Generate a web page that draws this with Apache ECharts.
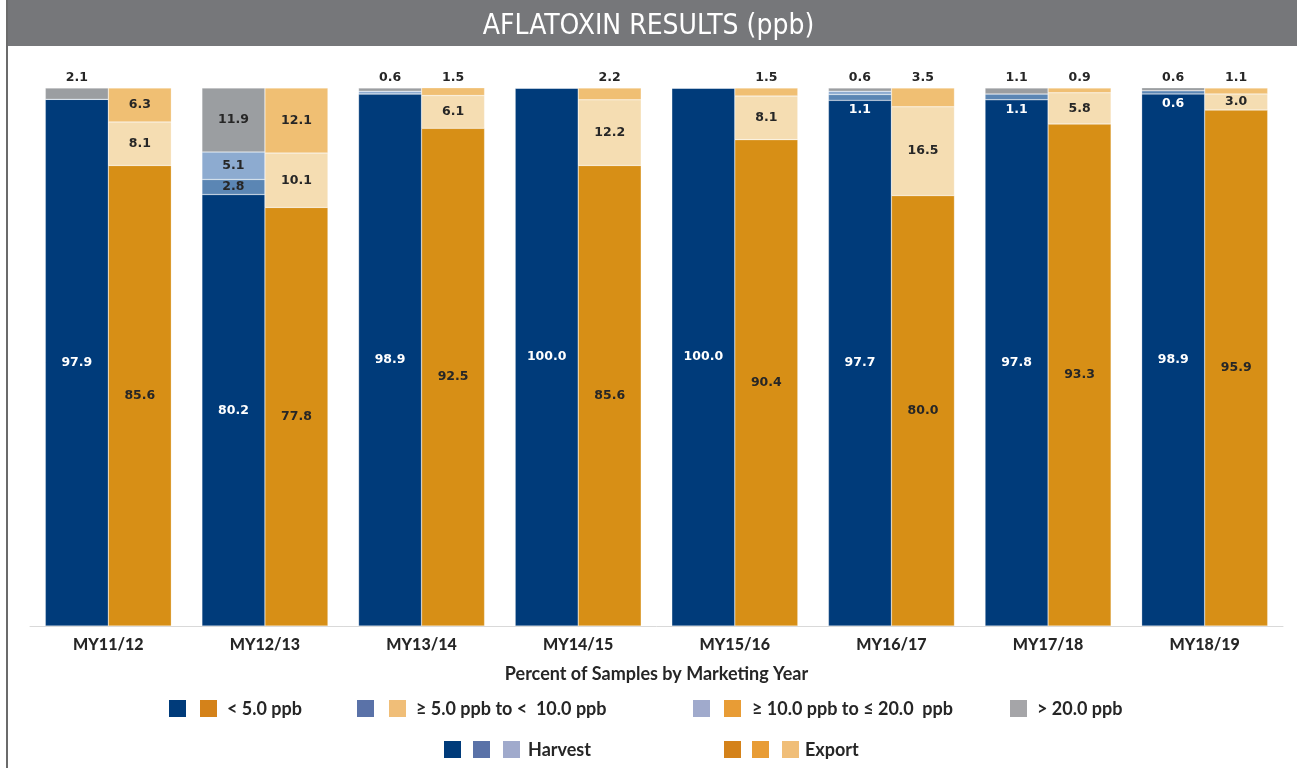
<!DOCTYPE html>
<html>
<head>
<meta charset="utf-8">
<script src="https://cdn.jsdelivr.net/npm/echarts@6/dist/echarts.min.js"></script>
<style>
  html, body { margin: 0; padding: 0; background: #fff; }
  #chart { width: 1297px; height: 768px; }
</style>
</head>
<body>
<div id="chart"></div>
<script>
// categories and values (percent of samples)
var categories = ['MY11/12', 'MY12/13', 'MY13/14', 'MY14/15', 'MY15/16', 'MY16/17', 'MY17/18', 'MY18/19'];

var harvestLt5   = [97.9, 80.2, 98.9, 100.0, 100.0, 97.7, 97.8, 98.9];
var harvest5to10 = [0, 2.8, 0, 0, 0, 1.1, 1.1, 0.6];
var harvest10to20 = [0, 5.1, 0.5, 0, 0, 0.6, 0, 0];
var harvestGt20  = [2.1, 11.9, 0.6, 0, 0, 0.6, 1.1, 0.6];

var exportLt5 = [85.6, 77.8, 92.5, 85.6, 90.4, 80.0, 93.3, 95.9];
var exportMid = [8.1, 10.1, 6.1, 12.2, 8.1, 16.5, 5.8, 3.0];
var exportTop = [6.3, 12.1, 1.5, 2.2, 1.5, 3.5, 0.9, 1.1];

var dark = '#262626';
var labelFont = 'DejaVu Sans';

// label placement rule per segment
function items(values, rule) {
  return values.map(function (v) {
    return { value: v, label: rule(v) };
  });
}
function inside(color) {
  return function (v) { return v > 0 ? { show: true, position: 'inside', color: color } : { show: false }; };
}
function topOrInside(limit) {
  return function (v) {
    if (v <= 0) return { show: false };
    if (v >= limit) return { show: true, position: 'inside', color: dark };
    return { show: true, position: 'top', color: dark, distance: 4 };
  };
}

var baseLabel = {
  fontFamily: labelFont,
  fontWeight: 'bold',
  fontSize: 12.5,
  formatter: function (p) { return p.value.toFixed(1); }
};

function bar(name, stack, color, data) {
  return {
    name: name,
    type: 'bar',
    stack: stack,
    barWidth: 63,
    barGap: '0%',
    itemStyle: { color: color, borderColor: 'rgba(255,255,255,0.5)', borderWidth: 0.5 },
    label: baseLabel,
    data: data
  };
}

var chart = echarts.init(document.getElementById('chart'));

var legendText = { fontFamily: 'Lato', fontWeight: 'bold', fontSize: 18, fill: dark };
function sq(x, y, c) {
  return { type: 'rect', shape: { x: x, y: y, width: 17, height: 17 }, style: { fill: c } };
}
function txt(x, y, s) {
  return { type: 'text', x: x, y: y, style: Object.assign({ text: s, verticalAlign: 'middle' }, legendText) };
}

var option = {
  animation: false,
  backgroundColor: '#fff',
  title: {
    text: 'AFLATOXIN RESULTS (ppb)',
    left: 'center',
    top: 8,
    textStyle: { color: '#fff', fontFamily: "'DejaVu Sans Condensed', 'Liberation Sans', sans-serif", fontWeight: 'normal', fontSize: 28 }
  },
  grid: { left: 30, right: 14, top: 88, bottom: 142 },
  xAxis: {
    type: 'category',
    data: categories,
    axisLine: { lineStyle: { color: '#d9d9d9', width: 1 } },
    axisTick: { show: false },
    axisLabel: { color: dark, fontFamily: 'Lato', fontWeight: 900, fontSize: 16, margin: 11 },
    name: 'Percent of Samples by Marketing Year',
    nameLocation: 'middle',
    nameGap: 39,
    nameTextStyle: { color: dark, fontFamily: 'Lato', fontWeight: 'bold', fontSize: 18 }
  },
  yAxis: { type: 'value', min: 0, max: 100, show: false },
  series: [
    bar('Harvest < 5.0', 'h', '#003b7a', items(harvestLt5, inside('#fff'))),
    bar('Harvest 5-10', 'h', '#5b86b4', items(harvest5to10, function (v) {
      if (v <= 0) return { show: false };
      if (v >= 2.5) return { show: true, position: 'inside', color: dark };
      return { show: true, position: 'bottom', color: '#fff', distance: 3 };
    })),
    bar('Harvest 10-20', 'h', '#8dabd0', items(harvest10to20, function (v) {
      return v >= 2.5 ? { show: true, position: 'inside', color: dark } : { show: false };
    })),
    bar('Harvest > 20', 'h', '#9b9ea1', items(harvestGt20, topOrInside(4))),
    bar('Export < 5.0', 'e', '#d78f16', items(exportLt5, inside(dark))),
    bar('Export mid', 'e', '#f5ddb2', items(exportMid, inside(dark))),
    bar('Export top', 'e', '#f0bf73', items(exportTop, topOrInside(5)))
  ],
  graphic: [
    { type: 'rect', z: -1, shape: { x: 7, y: 0, width: 1290, height: 46 }, style: { fill: '#76777a' } },
    { type: 'rect', shape: { x: 6, y: 0, width: 2, height: 768 }, style: { fill: '#6b6b6b' } },
    sq(169, 700, '#003b7a'), sq(200, 700, '#d4821a'), txt(227, 709, '< 5.0 ppb'),
    sq(357, 700, '#5a72a8'), sq(389, 700, '#f0be78'), txt(416, 709, '\u2265 5.0 ppb to \u003c  10.0 ppb'),
    sq(693, 700, '#a0aacc'), sq(724, 700, '#e89c35'), txt(752, 709, '\u2265 10.0 ppb to \u2264 20.0  ppb'),
    sq(1010, 700, '#a5a5a8'), txt(1037, 709, '> 20.0 ppb'),
    sq(444, 741, '#003b7a'), sq(473, 741, '#5a72a8'), sq(503, 741, '#a0aacc'), txt(528, 750, 'Harvest'),
    sq(724, 741, '#d4821a'), sq(752, 741, '#e89c35'), sq(782, 741, '#f0be78'), txt(805, 750, 'Export')
  ]
};

chart.setOption(option);
</script>
</body>
</html>
